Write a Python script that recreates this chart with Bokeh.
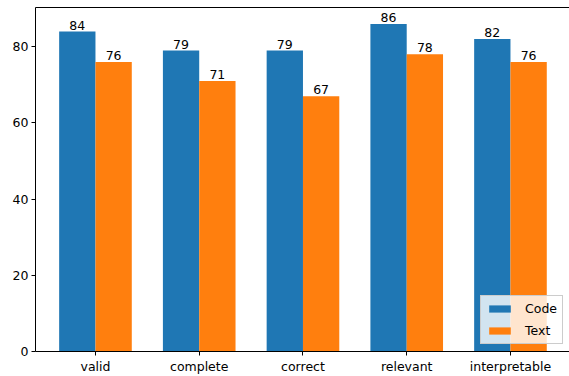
from bokeh.plotting import figure
from bokeh.models import (ColumnDataSource, Range1d, FixedTicker, Legend, LegendItem,
                          LabelSet, LinearAxis)
from bokeh.core.properties import value
from bokeh.transform import dodge
from bokeh.embed import file_html
from bokeh.resources import INLINE

categories = ["valid", "complete", "correct", "relevant", "interpretable"]
code_vals = [84, 79, 79, 86, 82]
text_vals = [76, 71, 67, 78, 76]
yticks = [0, 20, 40, 60, 80]

width = 0.35
xpos = list(range(len(categories)))
src = ColumnDataSource(dict(x=xpos, code=code_vals, text=text_vals,
                            code_lbl=[str(v) for v in code_vals],
                            text_lbl=[str(v) for v in text_vals]))

p = figure(width=569, height=376, output_backend="svg", toolbar_location=None,
           x_range=Range1d(-0.578, 4.569), y_range=Range1d(0, max(code_vals) * 1.05))
p.min_border_left = 35
p.min_border_right = 0
p.min_border_top = 7
p.min_border_bottom = 25
p.background_fill_color = "white"
p.border_fill_color = "white"
p.outline_line_color = None
p.xgrid.visible = False
p.ygrid.visible = False

r1 = p.vbar(x=dodge("x", -width / 2, range=p.x_range), top="code", width=width, source=src,
            fill_color="#1f77b4", line_color=None)
r2 = p.vbar(x=dodge("x", width / 2, range=p.x_range), top="text", width=width, source=src,
            fill_color="#ff7f0e", line_color=None)

font = "DejaVu Sans"
fs = "12.5px"
for col, off in (("code", -width / 2), ("text", width / 2)):
    lbl = LabelSet(x=dodge("x", off, range=p.x_range), y=col, text=col + "_lbl", source=src,
                   text_align="center", text_baseline="alphabetic", text_font=value(font),
                   text_font_size=value(fs), text_color="black", y_offset=2)
    p.add_layout(lbl)

p.xaxis.ticker = FixedTicker(ticks=xpos)
p.xaxis.major_label_overrides = {i: c for i, c in enumerate(categories)}
p.yaxis.ticker = FixedTicker(ticks=yticks)
for ax in (p.xaxis, p.yaxis):
    ax.minor_tick_line_color = None
    ax.major_tick_in = 0
    ax.major_tick_out = 4
    ax.major_tick_line_color = "black"
    ax.axis_line_color = "black"
    ax.major_label_text_font = font
    ax.major_label_text_font_size = fs
    ax.major_label_text_color = "black"
    ax.major_label_standoff = 3

top = LinearAxis(ticker=FixedTicker(ticks=[]), major_tick_out=0, major_tick_in=0,
                 minor_tick_line_color=None, major_label_text_font_size="0px",
                 major_label_standoff=0, axis_line_color="black")
p.add_layout(top, "above")

legend = Legend(items=[LegendItem(label="Code", renderers=[r1]),
                       LegendItem(label="Text", renderers=[r2])],
                location=(445, 7))
legend.label_text_font = font
legend.label_text_font_size = fs
legend.label_text_color = "black"
legend.background_fill_color = "white"
legend.background_fill_alpha = 0.8
legend.border_line_color = "#cccccc"
legend.border_line_alpha = 1
legend.glyph_width = 27
legend.glyph_height = 9
legend.label_height = 14
legend.spacing = 7
legend.padding = 5
legend.margin = 0
legend.label_standoff = 12
p.add_layout(legend)

open("out.html", "w").write(file_html(p, INLINE))
